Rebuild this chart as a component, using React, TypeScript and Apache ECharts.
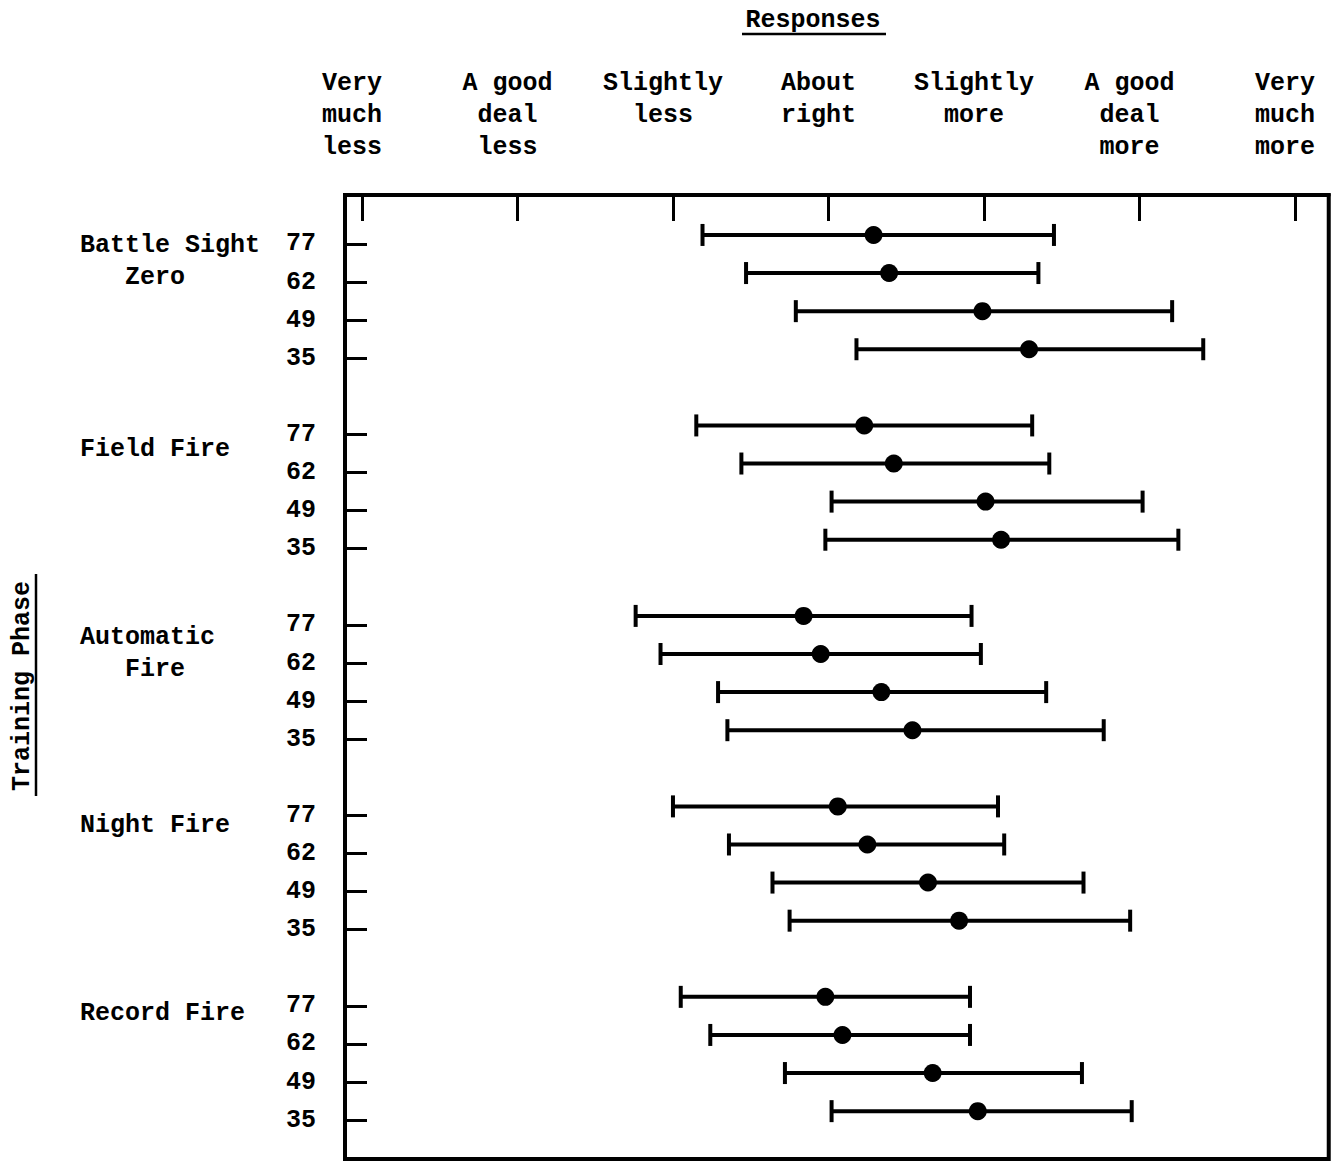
import React, { useEffect, useRef } from "react";
import * as echarts from "echarts";

// ---- data ----
const RESPONSE_VALUES = [1, 2, 3, 4, 5, 6, 7];
const RESPONSE_LABELS = [
  "Very\nmuch\nless",
  "A good\ndeal\nless",
  "Slightly\nless",
  "About\nright",
  "Slightly\nmore",
  "A good\ndeal\nmore",
  "Very\nmuch\nmore",
];
const PHASES = ["Battle Sight\n   Zero", "Field Fire", "Automatic\n   Fire", "Night Fire", "Record Fire"];
const GROUP_SIZES = ["77", "62", "49", "35"];

// [low, mean, high] per group size (77, 62, 49, 35)
const BATTLE_SIGHT_ZERO = [[3.19, 4.29, 5.45], [3.47, 4.39, 5.35], [3.79, 4.99, 6.21], [4.18, 5.29, 6.41]];
const FIELD_FIRE = [[3.15, 4.23, 5.31], [3.44, 4.42, 5.42], [4.02, 5.01, 6.02], [3.98, 5.11, 6.25]];
const AUTOMATIC_FIRE = [[2.76, 3.84, 4.92], [2.92, 3.95, 4.98], [3.29, 4.34, 5.40], [3.35, 4.54, 5.77]];
const NIGHT_FIRE = [[3.00, 4.06, 5.09], [3.36, 4.25, 5.13], [3.64, 4.64, 5.64], [3.75, 4.84, 5.94]];
const RECORD_FIRE = [[3.05, 3.98, 4.91], [3.24, 4.09, 4.91], [3.72, 4.67, 5.63], [4.02, 4.96, 5.95]];
const PHASE_DATA = [BATTLE_SIGHT_ZERO, FIELD_FIRE, AUTOMATIC_FIRE, NIGHT_FIRE, RECORD_FIRE];

// ---- layout constants ----
const ROWS_PER_PHASE = 5; // 4 sizes + 1 gap
const GROUP_LABEL_ROW = [0.05, 5.4, 10.33, 15.26, 20.19];
const BAR_SHIFT = -9;
const FONT = "'Liberation Mono', 'DejaVu Sans Mono', monospace";

const rowValues: number[] = [];
const seriesData: number[][] = [];
PHASE_DATA.forEach((phase, p) => {
  phase.forEach((d, s) => {
    const row = p * ROWS_PER_PHASE + s;
    rowValues.push(row);
    seriesData.push([d[0], d[1], d[2], row]);
  });
});

export default function App() {
  const ref = useRef<HTMLDivElement>(null);
  useEffect(() => {
    if (!ref.current) return;
    const chart = echarts.init(ref.current, null, { renderer: "svg" });
    const textBase = { fontFamily: FONT, fontWeight: "bold", fontSize: 25, color: "#000" };
    chart.setOption({
      animation: false,
      backgroundColor: "#fff",
      grid: { left: 345, right: 4, top: 195, bottom: 5, show: true, borderColor: "#000", borderWidth: 4 },
      xAxis: {
        type: "value",
        position: "top",
        min: 0.891,
        max: 7.217,
        axisLine: { show: true, onZero: false, lineStyle: { color: "#000", width: 4 } },
        axisTick: { show: true, inside: true, length: 26, lineStyle: { color: "#000", width: 3 }, customValues: RESPONSE_VALUES },
        axisLabel: {
          show: true,
          customValues: RESPONSE_VALUES,
          formatter: (v: number) => RESPONSE_LABELS[Math.round(v) - 1] ?? "",
          margin: 128,
          verticalAlign: "top",
          align: "center",
          lineHeight: 32,
          padding: [0, 20, 0, 0],
          ...textBase,
        },
        splitLine: { show: false },
      },
      yAxis: {
        type: "value",
        inverse: true,
        min: -1.285,
        max: 24.02,
        axisLine: { show: true, onZero: false, lineStyle: { color: "#000", width: 4 } },
        axisTick: { show: true, inside: true, length: 22, lineStyle: { color: "#000", width: 3 }, customValues: rowValues },
        axisLabel: {
          show: true,
          customValues: rowValues,
          formatter: (v: number) => GROUP_SIZES[Math.round(v) % ROWS_PER_PHASE] ?? "",
          margin: 29,
          ...textBase,
        },
        splitLine: { show: false },
      },
      series: [
        {
          type: "custom",
          data: seriesData,
          encode: { x: [0, 1, 2], y: 3 },
          renderItem: (params: any, api: any) => {
            const row = api.value(3);
            const pL = api.coord([api.value(0), row]);
            const pM = api.coord([api.value(1), row]);
            const pH = api.coord([api.value(2), row]);
            const y = pL[1] + BAR_SHIFT;
            const st = { stroke: "#000", lineWidth: 4 };
            return {
              type: "group",
              children: [
                { type: "line", shape: { x1: pL[0], y1: y, x2: pH[0], y2: y }, style: st },
                { type: "line", shape: { x1: pL[0], y1: y - 11, x2: pL[0], y2: y + 11 }, style: st },
                { type: "line", shape: { x1: pH[0], y1: y - 11, x2: pH[0], y2: y + 11 }, style: st },
                { type: "circle", shape: { cx: pM[0], cy: y, r: 9 }, style: { fill: "#000" } },
              ],
            };
          },
        },
      ],
    });

    const phaseTexts = PHASES.map((name, i) => {
      const y = chart.convertToPixel({ yAxisIndex: 0 }, GROUP_LABEL_ROW[i]) as number;
      return {
        type: "text",
        left: 80,
        top: y - 16,
        style: {
          text: name,
          font: `bold 25px ${FONT}`,
          fill: "#000",
          lineHeight: 32,
          align: "left",
        },
      };
    });

    chart.setOption({
      graphic: [
        {
          type: "text",
          x: 813,
          y: 20,
          style: { text: "Responses", font: `bold 25px ${FONT}`, fill: "#000", align: "center", verticalAlign: "middle" },
        },
        { type: "line", shape: { x1: 742, y1: 34, x2: 886, y2: 34 }, style: { stroke: "#000", lineWidth: 2.5 } },
        {
          type: "text",
          x: 22,
          y: 686,
          rotation: Math.PI / 2,
          style: { text: "Training Phase", font: `bold 25px ${FONT}`, fill: "#000", align: "center", verticalAlign: "middle" },
        },
        { type: "line", shape: { x1: 36, y1: 574, x2: 36, y2: 796 }, style: { stroke: "#000", lineWidth: 2.5 } },
        ...phaseTexts,
      ],
    });

    return () => chart.dispose();
  }, []);
  return <div ref={ref} style={{ position: "fixed", left: 0, top: 0, width: 1338, height: 1164, background: "#fff" }} />;
}
